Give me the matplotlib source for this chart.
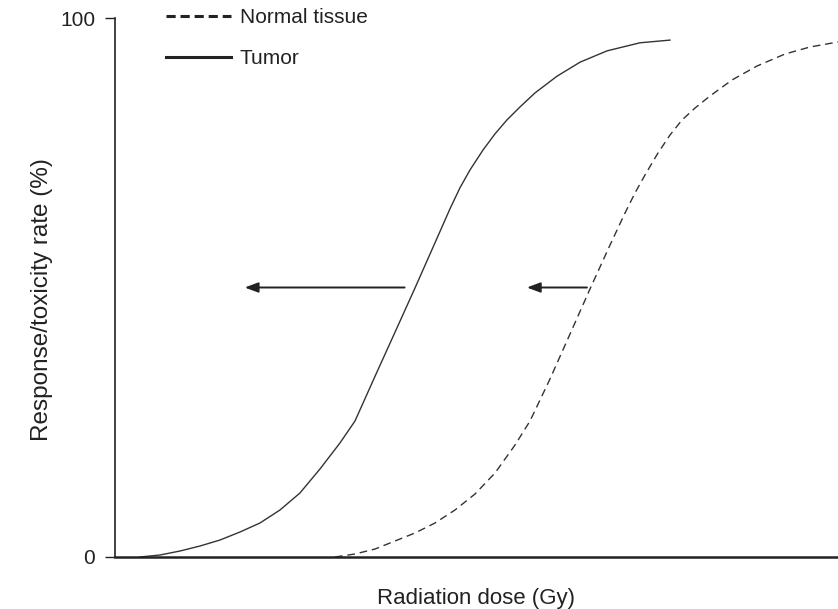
import matplotlib
matplotlib.use("Agg")
import matplotlib.pyplot as plt
from matplotlib.lines import Line2D

plt.rcParams['font.family'] = ['Liberation Sans', 'DejaVu Sans']

# Data (dose in arbitrary units 0-100, response in %)
tumor_dose = [3.52, 6.29, 9.05, 11.82, 14.58, 17.35, 20.11, 22.87, 25.63, 28.40, 31.16,
              33.24, 36.0, 38.77, 41.53, 44.30, 46.37, 47.75, 49.13, 50.93, 52.59, 54.25,
              56.05, 58.12, 61.16, 64.34, 68.07, 72.63, 76.78]
tumor_resp = [0.0, 0.37, 1.11, 2.04, 3.15, 4.64, 6.31, 8.72, 11.87, 16.33, 21.15,
              25.23, 33.5, 41.7, 49.9, 58.3, 64.6, 68.5, 71.8, 75.5, 78.5, 81.1,
              83.5, 86.1, 89.2, 91.8, 93.9, 95.4, 95.9]

normal_dose = [30.48, 33.24, 36.01, 38.77, 41.53, 44.30, 47.06, 49.83, 52.59, 55.36,
               57.43, 60.19, 62.96, 65.72, 68.49, 70.56, 71.94, 73.32, 75.12, 76.78,
               78.44, 80.24, 82.31, 85.35, 88.80, 92.68, 96.13, 100.0]
normal_resp = [0.0, 0.56, 1.48, 2.97, 4.45, 6.31, 8.72, 11.69, 15.58, 20.78,
               25.23, 33.02, 41.37, 49.72, 57.88, 63.82, 67.53, 70.87, 74.95, 78.29,
               81.08, 83.30, 85.53, 88.50, 91.09, 93.32, 94.62, 95.55]

arrow_y = 50
arrows = [(40.1, 18.0), (65.3, 57.0)]  # (start dose, end dose)

y_ticks = [0, 100]
y_ticklabels = ["0", "100"]

FS = 15
dark = "#222222"

fig = plt.figure(figsize=(8.38, 6.09), dpi=100)
ax = fig.add_axes([114.5 / 838, 52 / 609, (838 - 114.5) / 838, (557 - 18) / 609])
ax.set_xlim(0, 100)
ax.set_ylim(0, 100)

ax.plot(tumor_dose, tumor_resp, color="#333333", lw=1.0, solid_joinstyle="round")
ax.plot(normal_dose, normal_resp, color="#333333", lw=1.0, dashes=(5.5, 3.5))

for x0, x1 in arrows:
    ax.annotate("", xy=(x1, arrow_y), xytext=(x0, arrow_y),
                arrowprops=dict(arrowstyle="-|>,head_length=0.8,head_width=0.3",
                                color="#222222", lw=1.4, shrinkA=0, shrinkB=0))

for s in ["top", "right"]:
    ax.spines[s].set_visible(False)
ax.spines["left"].set_linewidth(1.2)
ax.spines["bottom"].set_linewidth(1.8)
ax.spines["left"].set_color(dark)
ax.spines["bottom"].set_color(dark)

ax.set_xticks([])
ax.set_yticks(y_ticks)
ax.set_yticklabels(y_ticklabels, fontsize=FS, color=dark)
ax.tick_params(axis="y", length=7, width=1.0, color=dark, pad=7)

ax.set_xlabel("Radiation dose (Gy)", fontsize=16, color=dark, labelpad=22)
ax.set_ylabel("Response/toxicity rate (%)", fontsize=17.5, color=dark)
ax.yaxis.set_label_coords((53 - 114.5) / 723.5, (557 - 300) / 539)

handles = [Line2D([], [], color=dark, lw=2.2, dashes=(3.0, 1.6)),
           Line2D([], [], color=dark, lw=2.2)]
fig.legend(handles, ["Normal tissue", "Tumor"], loc="upper left",
           bbox_to_anchor=(166 / 838, 1 - 8 / 609), frameon=False,
           fontsize=FS, handlelength=3.1, handletextpad=0.45,
           labelspacing=1.05, borderpad=0, borderaxespad=0, labelcolor=dark)

fig.savefig("out.png", dpi=100)
